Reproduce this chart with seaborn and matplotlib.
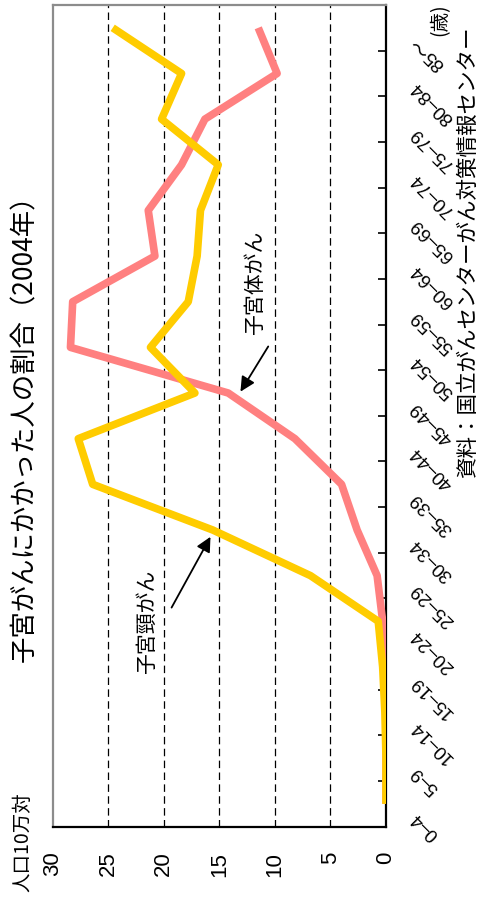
import numpy as np
import pandas as pd
import matplotlib
matplotlib.use("Agg")
import matplotlib.pyplot as plt
import matplotlib.transforms as mtransforms
import seaborn as sns

# Age groups (bottom to top) and incidence per 100,000 population
ages = ["0–4", "5–9", "10–14", "15–19", "20–24", "25–29", "30–34", "35–39",
        "40–44", "45–49", "50–54", "55–59", "60–64", "65–69", "70–74",
        "75–79", "80–84", "85～"]
cervix = [0.0, 0.0, 0.1, 0.3, 0.7, 6.8, 15.6, 26.4, 27.7, 17.2, 21.2,
          17.8, 17.0, 16.7, 15.1, 20.2, 18.4, 24.6]
corpus = [0.0, 0.0, 0.0, 0.1, 0.3, 0.8, 2.6, 4.0, 8.2, 14.2, 28.4,
          28.2, 20.8, 21.4, 18.4, 16.3, 9.8, 11.5]
value_ticks = [0, 5, 10, 15, 20, 25, 30]

CERVIX_NAME = "子宮頸がん"
CORPUS_NAME = "子宮体がん"

sns.set_theme(style="white")
plt.rcParams["font.family"] = ["Noto Sans CJK JP", "DejaVu Sans"]
NUM_FONT = ["Liberation Sans", "Noto Sans CJK JP", "DejaVu Sans"]

W, H = 490, 899
fig = plt.figure(figsize=(W / 100, H / 100), dpi=100)
fig.patch.set_facecolor("white")

left, right, top, bottom = 52.7, 386.0, 5.0, 826.7
ax = fig.add_axes([left / W, 1 - bottom / H, (right - left) / W, (bottom - top) / H])
ax.set_facecolor("white")

pos = np.arange(len(ages))
df = pd.DataFrame({"pos": pos, CERVIX_NAME: cervix, CORPUS_NAME: corpus})
long = df.melt(id_vars="pos", var_name="部位", value_name="rate")

# dashed reference lines along the value axis
for v in value_ticks[1:-1]:
    ax.axvline(v, color="black", lw=0.9, ls=(0, (6, 3.5)), zorder=1)

sns.lineplot(data=long, x="rate", y="pos", hue="部位",
             hue_order=[CORPUS_NAME, CERVIX_NAME],
             palette={CERVIX_NAME: "#FFCC00", CORPUS_NAME: "#FF8080"},
             orient="y", sort=False, lw=5.5, legend=False, ax=ax, zorder=3)
for ln in ax.get_lines():
    ln.set_solid_capstyle("butt")

ax.set_xlim(30, 0)
ax.set_ylim(-0.5, len(ages) - 0.5)
ax.set_xlabel("")
ax.set_ylabel("")

# spines: value and category axes in black, plot border in grey
for side in ("left", "top"):
    ax.spines[side].set_color("#8c8c8c")
    ax.spines[side].set_linewidth(1.6)
for side in ("right", "bottom"):
    ax.spines[side].set_color("black")
    ax.spines[side].set_linewidth(1.6)

# value axis (along the bottom)
ax.set_xticks(value_ticks)
ax.set_xticklabels([str(v) for v in value_ticks], rotation=90,
                   family=NUM_FONT, fontsize=16)
ax.tick_params(axis="x", length=0, pad=18, colors="black")

# category axis (along the right): boundary ticks, labels at centres
ax.set_yticks(np.arange(-0.5, len(ages) + 0.5, 1.0))
ax.set_yticklabels([])
ax.set_yticks(pos, minor=True)
ax.set_yticklabels(ages, minor=True, family=NUM_FONT, fontsize=13.5)
ax.tick_params(axis="y", which="major", left=False, right=True,
               direction="in", length=6, width=1.2, color="black",
               labelleft=False, labelright=False)
ax.tick_params(axis="y", which="minor", left=False, right=True, length=0,
               labelleft=False, labelright=True, pad=20, colors="black")
shift = mtransforms.ScaledTranslation(0, -11 / 100, fig.dpi_scale_trans)
for lab in ax.get_yticklabels(minor=True):
    lab.set_rotation(135)
    lab.set_rotation_mode("anchor")
    lab.set_ha("right")
    lab.set_va("center")
    lab.set_transform(lab.get_transform() + shift)

# series labels with arrows
ax.text(11.8, 11.42, CORPUS_NAME, rotation=90, ha="center", va="center",
        fontsize=15, color="black", zorder=5)
ax.annotate("", xy=(13.1, 9.03), xytext=(10.6, 10.02),
            arrowprops=dict(arrowstyle="-|>", color="black", lw=1.3,
                            mutation_scale=22, shrinkA=0, shrinkB=0), zorder=5)
ax.text(21.5, 3.99, CERVIX_NAME, rotation=90, ha="center", va="center",
        fontsize=15, color="black", zorder=5)
ax.annotate("", xy=(15.8, 5.85), xytext=(19.3, 4.3),
            arrowprops=dict(arrowstyle="-|>", color="black", lw=1.3,
                            mutation_scale=22, shrinkA=0, shrinkB=0), zorder=5)

# titles and notes
fig.text(25 / W, 1 - 422 / H, "子宮がんにかかった人の割合（2004年）",
         rotation=90, ha="center", va="center", fontsize=19, color="black")
fig.text(23 / W, 1 - 842 / H, "人口10万対", rotation=90, ha="center",
         va="center", fontsize=14, color="black")
fig.text(468 / W, 1 - 252 / H, "資料：国立がんセンターがん対策情報センター",
         rotation=90, ha="center", va="center", fontsize=15.5, color="black")
fig.text(440 / W, 1 - 20 / H, "(歳)", rotation=90, ha="center",
         va="center", fontsize=14, color="black")

fig.savefig("out.png", dpi=100, facecolor="white")
